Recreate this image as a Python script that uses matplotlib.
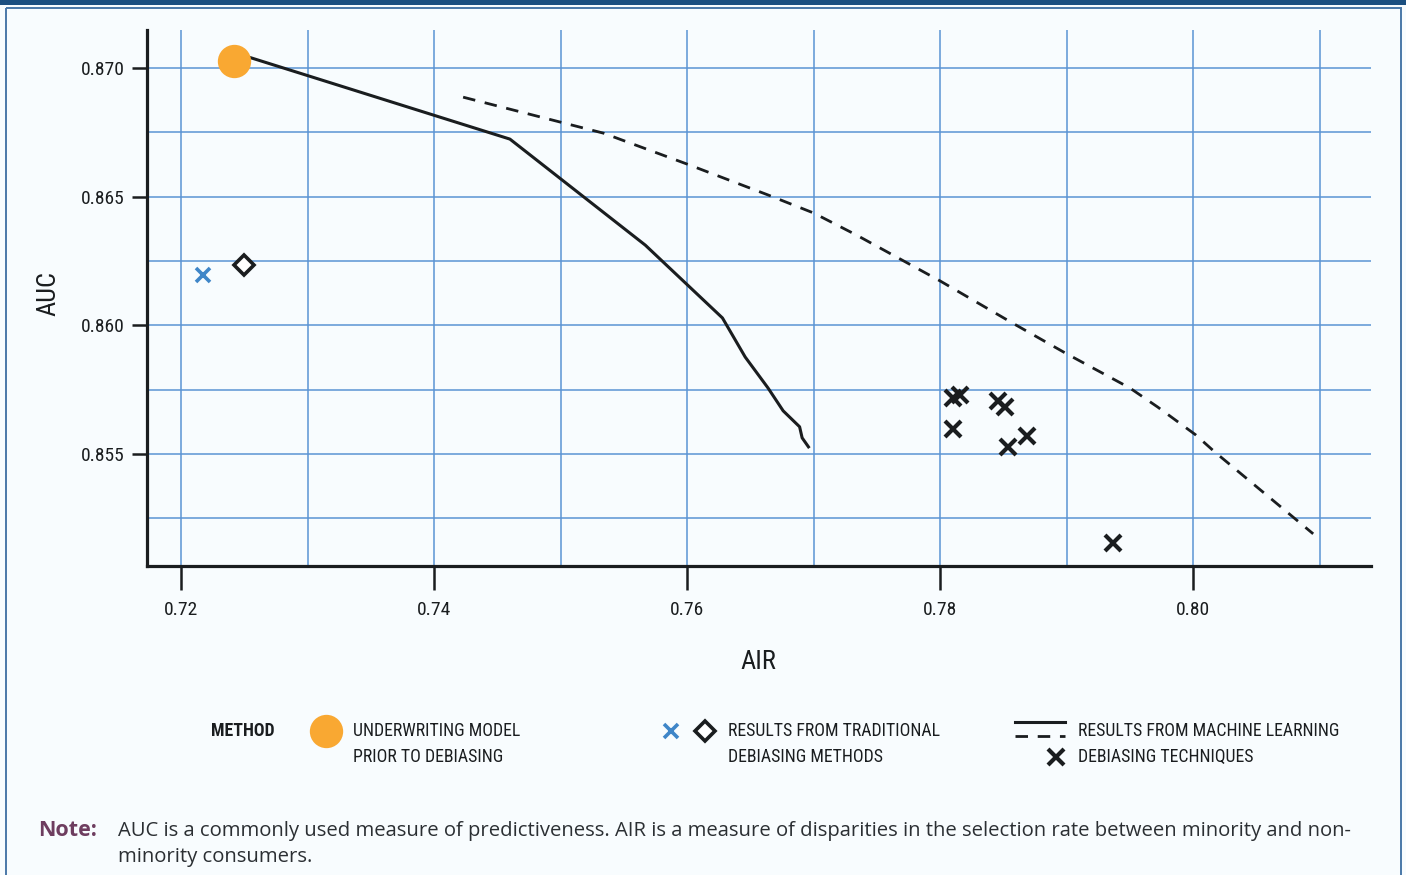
import matplotlib
matplotlib.use('Agg')
import matplotlib.pyplot as plt
from matplotlib import font_manager as fm
from matplotlib.patches import Rectangle
from matplotlib.ticker import MultipleLocator, FixedLocator

# ---------------- data ----------------
underwriting_air = [0.7242]
underwriting_auc = [0.87027]

ml_solid_air = [0.7252, 0.7460, 0.7567, 0.7628, 0.7646, 0.7664, 0.7676, 0.7689, 0.7691, 0.7696]
ml_solid_auc = [0.87045, 0.86724, 0.86312, 0.86029, 0.85877, 0.85757, 0.85668, 0.85606, 0.85563, 0.85528]

ml_dashed_air = [0.7423, 0.7534, 0.7600, 0.7664, 0.7700, 0.7734, 0.7800, 0.7857,
                 0.7900, 0.7950, 0.7972, 0.8002, 0.8017, 0.8095]
ml_dashed_auc = [0.86887, 0.86747, 0.86627, 0.86507, 0.86437, 0.86351, 0.86173, 0.86010,
                 0.85890, 0.85757, 0.85683, 0.85575, 0.85509, 0.85190]

trad_x_air = [0.7217]
trad_x_auc = [0.86196]
trad_d_air = [0.7250]
trad_d_auc = [0.86235]

ml_x_air = [0.7810, 0.7816, 0.7810, 0.7846, 0.7851, 0.7854, 0.7869, 0.7937]
ml_x_auc = [0.85718, 0.85729, 0.85597, 0.85706, 0.85683, 0.85528, 0.85570, 0.85155]

x_ticks = [0.72, 0.74, 0.76, 0.78, 0.80]
x_ticklabels = ['0.72', '0.74', '0.76', '0.78', '0.80']
y_ticks = [0.855, 0.860, 0.865, 0.870]
y_ticklabels = ['0.855', '0.860', '0.865', '0.870']

x_label = 'AIR'
y_label = 'AUC'
legend_title = 'METHOD'
legend_labels = ['UNDERWRITING MODEL\nPRIOR TO DEBIASING',
                 'RESULTS FROM TRADITIONAL\nDEBIASING METHODS',
                 'RESULTS FROM MACHINE LEARNING\nDEBIASING TECHNIQUES']
note_head = 'Note:'
note_text = ('AUC is a commonly used measure of predictiveness. AIR is a measure of disparities '
             'in the selection rate between minority and non-\nminority consumers.')

# ---------------- fonts ----------------
font_names = {f.name for f in fm.fontManager.ttflist}
cond_family = None
cond_stretch = 'normal'
for cand in ['Roboto Condensed', 'Liberation Sans Narrow', 'Open Sans Condensed',
             'DejaVu Sans Condensed', 'Noto Sans Condensed', 'Arial Narrow']:
    if cand in font_names:
        cond_family = cand
        break
if cond_family is None:
    for f in fm.fontManager.ttflist:
        if f.name in ('DejaVu Sans', 'Noto Sans', 'Open Sans', 'Roboto') and \
                str(f.stretch) in ('condensed', 'semi-condensed', 'extra-condensed', '75', '62', '87'):
            cond_family = f.name
            cond_stretch = 'condensed'
            break
if cond_family is None:
    for n in sorted(font_names):
        if 'Condensed' in n or 'Narrow' in n:
            cond_family = n
            break
if cond_family is None:
    COND = ['DejaVu Sans']
    SZ_TICK, SZ_LAB, SZ_LEG = 12.5, 17, 11
else:
    COND = [cond_family, 'DejaVu Sans']
    SZ_TICK, SZ_LAB, SZ_LEG = 14, 19, 12.8
BODY = ['Open Sans', 'DejaVu Sans']

# ---------------- style ----------------
W, H = 1406, 875
BG = '#f8fcfe'
ORANGE = '#f9a832'
BLUE = '#3f86c8'
GRID = '#5b94d4'
INK = '#1a1d1f'

fig = plt.figure(figsize=(W / 100, H / 100), dpi=100, facecolor=BG)


def fx(px):
    return px / W


def fy(py):
    return 1 - py / H


ax = fig.add_axes([fx(147), fy(566), fx(1371) - fx(147), fy(30) - fy(566)])
ax.set_facecolor('none')
ax.set_xlim(0.71731, 0.81407)
ax.set_ylim(0.85065, 0.87148)

# grid (every 0.01 in x, every 0.0025 in y)
ax.xaxis.set_major_locator(FixedLocator(x_ticks))
ax.yaxis.set_major_locator(FixedLocator(y_ticks))
ax.xaxis.set_minor_locator(MultipleLocator(0.01))
ax.yaxis.set_minor_locator(MultipleLocator(0.0025))
ax.xaxis.remove_overlapping_locs = False
ax.yaxis.remove_overlapping_locs = False
ax.grid(which='minor', color=GRID, linewidth=1.1, zorder=0)
ax.grid(which='major', visible=False)
ax.tick_params(which='minor', length=0)
ax.set_axisbelow(True)

tick_font = dict(family=COND, size=SZ_TICK, stretch=cond_stretch)
ax.set_xticklabels(x_ticklabels, fontdict=tick_font, color=INK)
ax.set_yticklabels(y_ticklabels, fontdict=tick_font, color=INK)
ax.tick_params(axis='x', which='major', length=17, width=1.8, color=INK, pad=8)
ax.tick_params(axis='y', which='major', length=11, width=1.8, color=INK, pad=5)

for s in ['top', 'right']:
    ax.spines[s].set_visible(False)
for s in ['left', 'bottom']:
    ax.spines[s].set_linewidth(2.3)
    ax.spines[s].set_color(INK)

# lines
ax.plot(ml_solid_air, ml_solid_auc, color=INK, lw=2.2, zorder=3, solid_joinstyle='round')
ax.plot(ml_dashed_air, ml_dashed_auc, color=INK, lw=2.0, linestyle=(0, (4.5, 3.5)), zorder=3)

# points
ax.plot(underwriting_air, underwriting_auc, 'o', color=ORANGE, markersize=24, markeredgewidth=0, zorder=4)
ax.plot(trad_x_air, trad_x_auc, 'x', color=BLUE, markersize=10, markeredgewidth=2.6, zorder=4)
ax.plot(trad_d_air, trad_d_auc, 'D', markerfacecolor='white', markeredgecolor=INK,
        markersize=10, markeredgewidth=2.6, zorder=4)
ax.plot(ml_x_air, ml_x_auc, 'x', color=INK, markersize=11, markeredgewidth=3, linestyle='none', zorder=4)

# axis labels
fig.text(fx(758), fy(662), x_label, ha='center', va='center', family=COND, stretch=cond_stretch,
         size=SZ_LAB, color=INK)
fig.text(fx(48), fy(293), y_label, ha='center', va='center', rotation=90, family=COND,
         stretch=cond_stretch, size=SZ_LAB, color=INK)

# overlay axes in pixel coordinates for legend / frame
lax = fig.add_axes([0, 0, 1, 1])
lax.set_xlim(0, W)
lax.set_ylim(H, 0)
lax.axis('off')
lax.set_facecolor('none')

# frame
lax.add_patch(Rectangle((0, 0), W, 4.5, color='#1b4f80', lw=0, zorder=1))
lax.add_patch(Rectangle((5.5, 7.5), W - 11, H, fill=False, edgecolor='#4a78a8', lw=1.4, zorder=1))

leg_font = dict(family=COND, size=SZ_LEG, stretch=cond_stretch, color=INK)
LS = 1.55
# legend
lax.text(243, 731, legend_title, ha='center', va='center', weight='bold', **leg_font)
lax.plot([326], [731], 'o', color=ORANGE, markersize=24, markeredgewidth=0)
lax.text(353, 744, legend_labels[0], ha='left', va='center', linespacing=LS, **leg_font)

lax.plot([671], [731], 'x', color=BLUE, markersize=10, markeredgewidth=2.6)
lax.plot([705], [731], 'D', markerfacecolor='white', markeredgecolor=INK, markersize=10, markeredgewidth=2.6)
lax.text(728, 744, legend_labels[1], ha='left', va='center', linespacing=LS, **leg_font)

lax.plot([1015, 1065], [722, 722], color=INK, lw=2.2)
lax.plot([1015, 1065], [736, 736], color=INK, lw=2.0, linestyle=(0, (4.5, 3.5)))
lax.plot([1056], [757], 'x', color=INK, markersize=11, markeredgewidth=3)
lax.text(1078, 744, legend_labels[2], ha='left', va='center', linespacing=LS, **leg_font)

# note
lax.text(38, 830, note_head, ha='left', va='center', family=BODY, size=15.5,
         weight='bold', color='#6e3d5f')
lax.text(118, 844, note_text, ha='left', va='center', family=BODY, size=14.6,
         color='#2b2f33', linespacing=1.45)

fig.savefig('out.png', dpi=100, facecolor=BG)
